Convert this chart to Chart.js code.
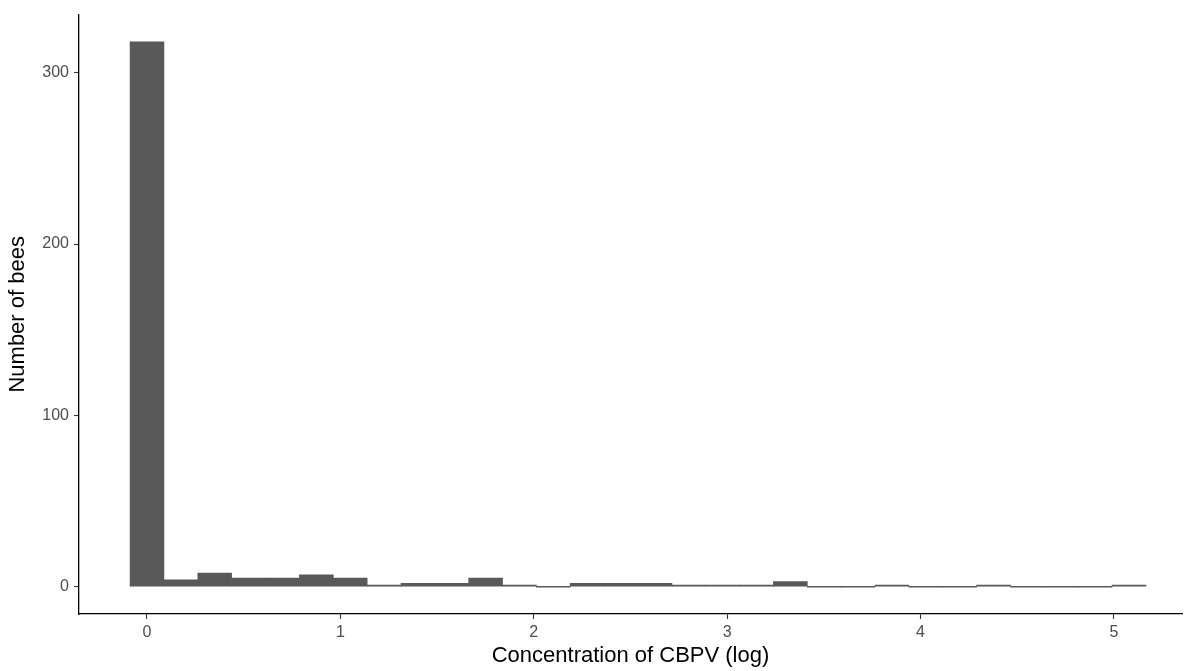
<!DOCTYPE html>
<html>
<head>
<meta charset="utf-8">
<script src="https://cdn.jsdelivr.net/npm/chart.js@4/dist/chart.umd.min.js"></script>
<style>
    html, body { margin: 0; padding: 0; background: #fff; }
    #box { width: 1189px; height: 671px; }
</style>
</head>
<body>
<div id="box"><canvas id="histograma"></canvas></div>
<script>
// histogram bins: centre of each bin (log concentration) and bee count
const binCentres = [0.000, 0.175, 0.350, 0.525, 0.700, 0.876, 1.051, 1.226, 1.401, 1.576,
                    1.751, 1.926, 2.101, 2.276, 2.451, 2.627, 2.802, 2.977, 3.152, 3.327,
                    3.502, 3.677, 3.852, 4.027, 4.202, 4.378, 4.553, 4.728, 4.903, 5.078];
const beeCounts = [318, 4, 8, 5, 5, 7, 5, 1, 2, 2,
                   5, 1, 0, 2, 2, 2, 1, 1, 1, 3,
                   0, 0, 1, 0, 0, 1, 0, 0, 0, 1];
const xTicks = [0, 1, 2, 3, 4, 5];
const yTicks = [0, 100, 200, 300];

const fonte = "'Liberation Sans', Arial, sans-serif";
const ctx = document.getElementById("histograma");

new Chart(ctx, {
    type: "bar",
    data: {
        datasets: [{
            data: binCentres.map((c, i) => ({ x: c, y: beeCounts[i] })),
            backgroundColor: "#595959",
            borderWidth: 0,
            barThickness: "flex",
            barPercentage: 1,
            categoryPercentage: 1,
            minBarLength: 1
        }]
    },
    options: {
        responsive: true,
        maintainAspectRatio: false,
        animation: false,
        layout: { padding: { left: 0, top: 12, right: 7, bottom: 0 } },
        plugins: { legend: { display: false }, tooltip: { enabled: false } },
        scales: {
            x: {
                type: "linear",
                offset: false,
                min: -0.3516,
                max: 5.352,
                afterBuildTicks: s => { s.ticks = xTicks.map(v => ({ value: v })); },
                afterFit: s => { s.height = 57; },
                border: { display: true, color: "#000", width: 1.3 },
                grid: { offset: false, drawOnChartArea: false, drawTicks: true, tickLength: 5, tickColor: "#333", tickWidth: 1.1 },
                ticks: { color: "#4D4D4D", font: { family: fonte, size: 16 }, padding: 4, maxRotation: 0 },
                title: {
                    display: true,
                    text: "Concentration of CBPV (log)",
                    color: "#000",
                    font: { family: fonte, size: 22 },
                    padding: { top: 0, bottom: 2 }
                }
            },
            y: {
                min: -15.9,
                max: 333.9,
                afterBuildTicks: s => { s.ticks = yTicks.map(v => ({ value: v })); },
                afterFit: s => { s.width = 79; },
                border: { display: true, color: "#000", width: 1.3 },
                grid: { drawOnChartArea: false, drawTicks: true, tickLength: 5, tickColor: "#333", tickWidth: 1.1 },
                ticks: { color: "#4D4D4D", font: { family: fonte, size: 16 }, padding: 5 },
                title: {
                    display: true,
                    text: "Number of bees",
                    color: "#000",
                    font: { family: fonte, size: 22 },
                    padding: { top: 5, bottom: 0 }
                }
            }
        }
    }
});
</script>
</body>
</html>
